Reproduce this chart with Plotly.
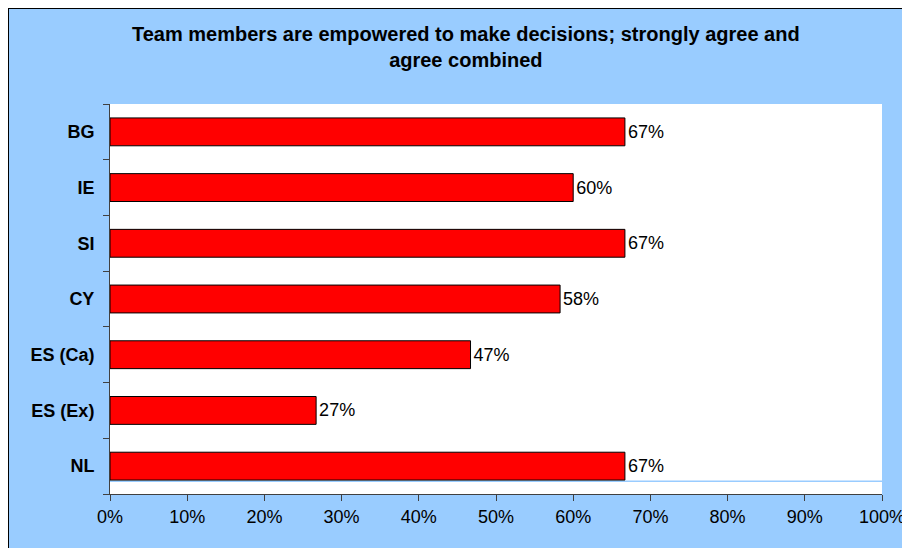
import plotly.graph_objects as go

categories = ["BG", "IE", "SI", "CY", "ES (Ca)", "ES (Ex)", "NL"]
values = [66.7, 60.0, 66.7, 58.3, 46.7, 26.7, 66.7]
labels = ["67%", "60%", "67%", "58%", "47%", "27%", "67%"]
x_ticks = [0, 10, 20, 30, 40, 50, 60, 70, 80, 90, 100]
x_tick_labels = [f"{t}%" for t in x_ticks]
title_lines = ["Team members are empowered to make decisions; strongly agree and",
               "agree combined"]

FONT = "Liberation Sans, Arial, sans-serif"
BLUE = "#99CCFF"

W, H = 910, 548
L, R, T, B = 102, 36, 96, 62
pw, ph = W - L - R, H - T - B

def px_x(p):
    return (p - L) / pw

def px_y(p):
    return (H - B - p) / ph

fig = go.Figure()
fig.add_trace(go.Bar(
    x=values, y=categories, orientation="h",
    marker=dict(color="#FF0000", line=dict(color="#000000", width=1)),
    text=labels, textposition="outside", cliponaxis=False,
    textfont=dict(family=FONT, size=18, color="#000000"),
    hoverinfo="skip",
))

shapes = [
    # black frame lines at figure top and left edges
    dict(type="line", xref="paper", yref="paper", x0=px_x(0), x1=px_x(W + 5),
         y0=px_y(0), y1=px_y(0), line=dict(color="black", width=2), layer="above"),
    dict(type="line", xref="paper", yref="paper", x0=px_x(0), x1=px_x(0),
         y0=px_y(0), y1=px_y(H + 5), line=dict(color="black", width=2), layer="above"),
    # faint light-blue line under the last bar
    dict(type="line", xref="paper", yref="y", x0=0, x1=1,
         y0=len(categories) - 1 + 0.27, y1=len(categories) - 1 + 0.27,
         line=dict(color=BLUE, width=1.5), layer="below"),
]

annotations = [
    dict(text="<b>" + "<br>".join(title_lines) + "</b>", xref="paper", yref="paper",
         x=px_x(458), y=px_y(39), xanchor="center", yanchor="middle", showarrow=False,
         font=dict(family=FONT, size=20, color="#000000"), align="center"),
]

fig.update_layout(
    width=W, height=H,
    margin=dict(l=L, r=R, t=T, b=B, pad=0),
    paper_bgcolor=BLUE, plot_bgcolor="white",
    bargap=0.5, showlegend=False,
    shapes=shapes, annotations=annotations,
    xaxis=dict(range=[0, 100], tickvals=x_ticks, ticktext=x_tick_labels,
               showgrid=False, zeroline=False, showline=True, linecolor="#404040",
               linewidth=1, ticks="outside", ticklen=6, tickcolor="#404040",
               tickfont=dict(family=FONT, size=18, color="#000000"), fixedrange=True),
    yaxis=dict(categoryorder="array", categoryarray=categories, autorange="reversed",
               showgrid=False, zeroline=False, showline=True, linecolor="#404040",
               linewidth=1, ticks="outside", ticklen=6, tickcolor="#404040",
               tickson="boundaries", ticklabelstandoff=11,
               tickfont=dict(family=FONT, size=18, color="#000000"), fixedrange=True),
)
fig.update_yaxes(ticktext=["<b>" + c + "</b>" for c in categories], tickvals=categories)

fig.write_html("out.html")
